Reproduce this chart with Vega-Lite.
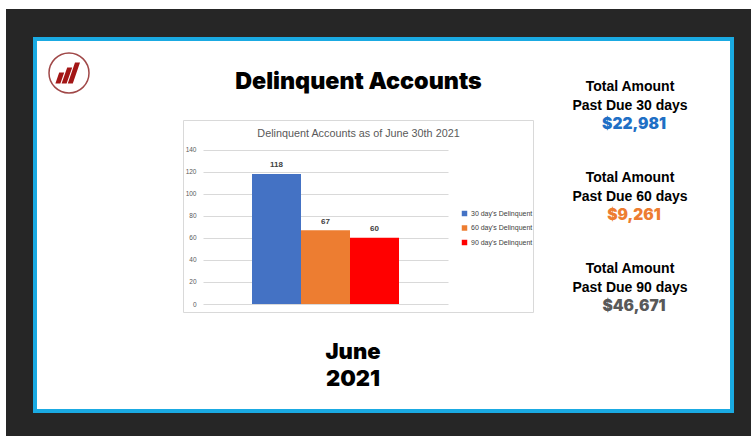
{
  "$schema": "https://vega.github.io/schema/vega-lite/v6.json",
  "width": 697,
  "height": 372,
  "autosize": {"type": "none"},
  "padding": {"left": 35, "top": 39, "right": 19, "bottom": 25},
  "background": "#262626",
  "title": {
    "text": "Delinquent Accounts",
    "subtitle": "Delinquent Accounts as of June 30th 2021",
    "anchor": "middle",
    "frame": "group",
    "offset": -140,
    "dx": -25,
    "font": "Inter",
    "fontSize": 23.3,
    "fontWeight": 900,
    "color": "#000000",
    "subtitleFont": "Liberation Sans",
    "subtitleFontSize": 10.8,
    "subtitleColor": "#595959",
    "subtitleFontWeight": "normal",
    "subtitlePadding": 34
  },
  "resolve": {
    "scale": {"x": "independent", "y": "independent", "color": "independent"},
    "axis": {"x": "independent", "y": "independent"},
    "legend": {"color": "independent"}
  },
  "layer": [
    {
      "data": {"values": [
        {"series": "30 day's Delinquent", "count": 118},
        {"series": "60 day's Delinquent", "count": 67},
        {"series": "90 day's Delinquent", "count": 60}
      ]},
      "layer": [
        {
          "mark": {"type": "bar"},
          "encoding": {
            "x": {"field": "series", "type": "nominal", "sort": null,
              "scale": {"range": [168, 413], "paddingInner": 0, "paddingOuter": 1.07},
              "axis": {"orient": "bottom", "labels": false, "ticks": false, "domain": false, "grid": false,
                "title": ["June", "2021"], "titleFont": "Inter", "titleFontWeight": 900, "titleFontSize": 22,
                "titleLineHeight": 27, "titleColor": "#000000", "titleAlign": "center", "titleBaseline": "alphabetic",
                "titleX": 317.5, "titleY": -53}},
            "y": {"field": "count", "type": "quantitative",
              "scale": {"domain": [0, 140], "range": [265, 110.7], "nice": false, "zero": true},
              "axis": {"orient": "left", "offset": -168, "values": [0, 20, 40, 60, 80, 100, 120, 140],
                "ticks": false, "domain": false, "labelPadding": 7, "labelFont": "Liberation Sans",
                "labelFontSize": 6.5, "labelColor": "#595959", "grid": true, "gridColor": "#D9D9D9", "title": null}},
            "color": {"field": "series", "type": "nominal", "sort": null,
              "scale": {"range": ["#4472C4", "#ED7D31", "#FF0000"]},
              "legend": {"orient": "none", "legendX": 426, "legendY": 171, "title": null, "symbolType": "square",
                "symbolSize": 30, "symbolStrokeWidth": 0, "labelFont": "Liberation Sans", "labelFontSize": 7,
                "labelColor": "#404040", "rowPadding": 6.5, "labelOffset": 3, "padding": 0}}
          }
        },
        {
          "mark": {"type": "text", "dy": -8.5, "baseline": "middle", "font": "Liberation Sans", "fontWeight": "bold", "fontSize": 8, "color": "#404040"},
          "encoding": {
            "x": {"field": "series", "type": "nominal", "sort": null},
            "y": {"field": "count", "type": "quantitative"},
            "text": {"field": "count", "type": "quantitative"}
          }
        }
      ]
    },
    {
      "data": {"values": [{}]},
      "layer": [
        {
          "mark": {"type": "rect", "color": "#FFFFFF"},
          "encoding": {
            "x": {"datum": 0, "type": "quantitative", "scale": {"domain": [0, 751], "range": [-35, 716], "zero": false, "nice": false}, "axis": null},
            "x2": {"datum": 751},
            "y": {"datum": 0, "type": "quantitative", "scale": {"domain": [0, 436], "range": [-39, 397], "zero": false, "nice": false}, "axis": null},
            "y2": {"datum": 9}
          }
        },
        {
          "mark": {"type": "rect", "color": "#FFFFFF"},
          "encoding": {
            "x": {"datum": 0, "type": "quantitative"},
            "x2": {"datum": 6},
            "y": {"datum": 0, "type": "quantitative"},
            "y2": {"datum": 436}
          }
        },
        {
          "mark": {"type": "rect", "filled": false, "color": "#D9D9D9", "strokeWidth": 1},
          "encoding": {
            "x": {"datum": 183.5, "type": "quantitative"},
            "x2": {"datum": 533.5},
            "y": {"datum": 120.5, "type": "quantitative"},
            "y2": {"datum": 312.5}
          }
        },
        {
          "mark": {"type": "point", "shape": "circle", "size": 1600, "filled": false, "color": "#A04848", "strokeWidth": 1.5, "opacity": 1},
          "encoding": {
            "x": {"datum": 69, "type": "quantitative"},
            "y": {"datum": 73, "type": "quantitative"}
          }
        },
        {
          "mark": {"type": "point", "shape": "M -0.68 0.52 L -0.43 0.52 L -0.24 -0.02 L -0.49 -0.02 Z M -0.37 0.52 L -0.12 0.52 L 0.16 -0.28 L -0.09 -0.28 Z M -0.06 0.52 L 0.19 0.52 L 0.55 -0.52 L 0.3 -0.52 Z", "size": 1600, "filled": true, "color": "#A31616", "strokeWidth": 0, "opacity": 1},
          "encoding": {
            "x": {"datum": 69, "type": "quantitative"},
            "y": {"datum": 73, "type": "quantitative"}
          }
        }
      ]
    },
    {
      "data": {"values": [
        {"block": "30 days", "heading": "Total Amount\nPast Due 30 days", "amount": "$22,981"},
        {"block": "60 days", "heading": "Total Amount\nPast Due 60 days", "amount": "$9,261"},
        {"block": "90 days", "heading": "Total Amount\nPast Due 90 days", "amount": "$46,671"}
      ]},
      "encoding": {
        "y": {"field": "block", "type": "nominal", "sort": null, "scale": {"type": "point", "range": [52, 234.3], "padding": 0}, "axis": null}
      },
      "layer": [
        {
          "mark": {"type": "text", "lineBreak": "\n", "lineHeight": 19, "font": "Liberation Sans", "fontWeight": "bold", "fontSize": 14, "align": "center", "baseline": "alphabetic", "color": "#000000"},
          "encoding": {
            "x": {"datum": 630, "type": "quantitative", "scale": {"domain": [0, 751], "range": [-35, 716], "zero": false, "nice": false}, "axis": null},
            "text": {"field": "heading", "type": "nominal"}
          }
        },
        {
          "mark": {"type": "text", "font": "Inter", "fontWeight": 900, "fontSize": 15.5, "align": "center", "baseline": "alphabetic", "dy": 38},
          "encoding": {
            "x": {"datum": 634, "type": "quantitative"},
            "text": {"field": "amount", "type": "nominal"},
            "color": {"field": "block", "type": "nominal", "sort": null, "scale": {"range": ["#1F6FC5", "#ED7D31", "#595959"]}, "legend": null}
          }
        }
      ]
    }
  ],
  "config": {
    "view": {"fill": "#FFFFFF", "stroke": "#1AAAE2", "strokeWidth": 4}
  }
}
